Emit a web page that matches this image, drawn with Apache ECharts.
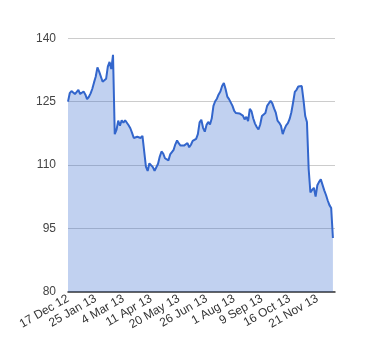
<!DOCTYPE html>
<html>
<head>
<meta charset="utf-8">
<script src="https://cdn.jsdelivr.net/npm/echarts@6/dist/echarts.min.js"></script>
<style>html,body{margin:0;padding:0;background:#fff;}#c{width:380px;height:360px;}</style>
</head>
<body>
<div id="c"></div>
<script>
const tickLabels = ['17 Dec 12','25 Jan 13','4 Mar 13','11 Apr 13','20 May 13','26 Jun 13','1 Aug 13','9 Sep 13','16 Oct 13','21 Nov 13'];
const yTicks = [80, 95, 110, 125, 140];
const LABEL_STEP = 16;
const prices = [
 125.0,127.0,127.5,127.9,126.8,126.7,127.8,126.8,126.5,127.4,
 126.7,125.6,126.1,126.9,128.0,129.5,130.9,133.1,132.1,131.9,
 129.7,130.0,130.4,133.3,134.4,132.7,136.1,117.3,118.3,120.5,
 119.3,120.6,120.0,120.6,120.7,119.4,118.7,117.6,116.4,116.2,
 116.7,116.7,116.4,116.9,117.1,109.6,108.6,110.4,110.1,109.5,
 108.6,108.2,110.3,112.0,113.2,112.7,111.6,111.9,111.1,112.5,
 112.9,113.6,114.9,115.8,115.1,114.6,114.9,114.6,114.8,115.2,
 114.2,114.8,115.7,115.9,116.2,117.3,120.1,120.7,118.8,117.9,
 119.5,120.2,119.6,121.0,124.0,125.1,125.7,126.7,127.4,128.7,
 129.4,128.0,126.2,125.6,126.0,124.0,122.8,122.3,122.7,122.2,
 122.5,121.7,120.8,121.4,120.4,123.3,122.7,121.0,119.8,119.0,
 118.4,119.6,121.6,121.8,122.3,124.0,124.0,125.2,124.6,123.4,
 122.4,120.5,120.0,119.3,117.3,118.5,119.4,119.9,120.9,122.5,
 124.8,127.3,127.8,128.6,129.0,128.7,125.4,121.6,120.2,109.0,
 103.5,104.1,104.6,102.5,105.2,106.0,106.6,106.4,104.0,102.9,
 101.6,100.5,99.8,92.7
];

const chart = echarts.init(document.getElementById('c'), null, {renderer: 'canvas'});
chart.setOption({
  animation: false,
  grid: {left: 68, right: 45, top: 38.3, bottom: 68.3, containLabel: false},
  xAxis: {
    type: 'value',
    min: 0,
    max: 154.2,
    interval: LABEL_STEP,
    splitLine: {show: false},
    axisTick: {show: false},
    axisLine: {show: true, lineStyle: {color: '#333', width: 1.5}},
    axisLabel: {
      rotate: 30,
      margin: 6,
      color: '#333',
      fontFamily: 'Liberation Sans, Arial, sans-serif',
      fontSize: 12,
      showMaxLabel: false,
      formatter: function (v) {
        const k = Math.round(v / LABEL_STEP);
        if (Math.abs(v - k * LABEL_STEP) > 1e-6) return '';
        return tickLabels[k] || '';
      }
    }
  },
  yAxis: {
    type: 'value',
    min: yTicks[0],
    max: yTicks[yTicks.length - 1],
    interval: yTicks[1] - yTicks[0],
    axisLine: {show: false},
    axisTick: {show: false},
    splitLine: {lineStyle: {color: '#cccccc', width: 1}},
    axisLabel: {
      margin: 12,
      color: '#444',
      fontFamily: 'Liberation Sans, Arial, sans-serif',
      fontSize: 12
    }
  },
  series: [{
    type: 'line',
    data: prices.map((v, i) => [i, v]),
    showSymbol: false,
    lineStyle: {color: '#3366cc', width: 2},
    itemStyle: {color: '#3366cc'},
    areaStyle: {color: '#3366cc', opacity: 0.3, origin: 'start'}
  }]
});
</script>
</body>
</html>
